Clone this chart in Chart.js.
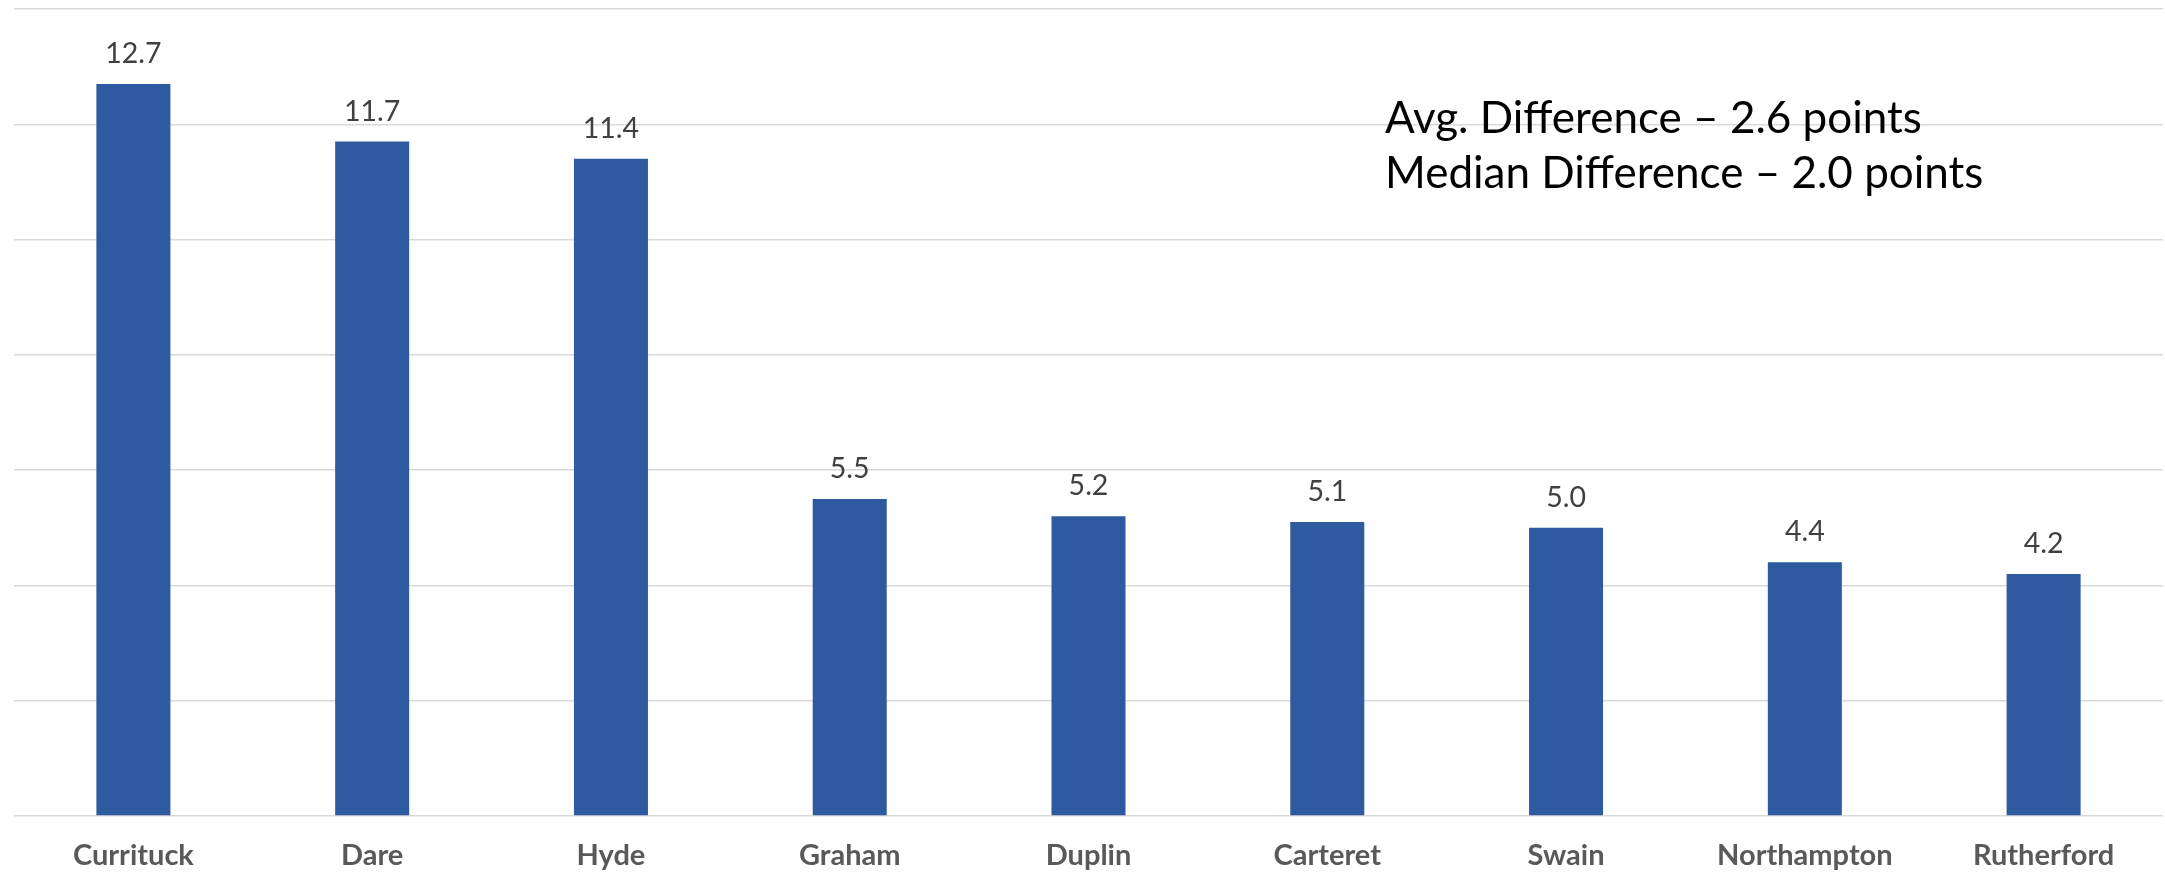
<!DOCTYPE html>
<html>
<head>
<meta charset="utf-8">
<script src="https://cdn.jsdelivr.net/npm/chart.js@4"></script>
<style>
  html, body { margin: 0; padding: 0; background: #fff; }
  #wrap { width: 2165px; height: 873px; }
</style>
</head>
<body>
<div id="wrap"><canvas id="chart"></canvas></div>
<script>
const counties = ['Currituck', 'Dare', 'Hyde', 'Graham', 'Duplin', 'Carteret', 'Swain', 'Northampton', 'Rutherford'];
const differences = [12.7, 11.7, 11.4, 5.5, 5.2, 5.1, 5.0, 4.4, 4.2];
const notes = ['Avg. Difference \u2013 2.6 points', 'Median Difference \u2013 2.0 points'];

// value labels above each bar
const barLabels = {
    id: 'barLabels',
    afterDatasetsDraw(chart) {
        const ctx = chart.ctx;
        const meta = chart.getDatasetMeta(0);
        ctx.save();
        ctx.font = '28.5px Lato';
        ctx.fillStyle = '#404040';
        ctx.textAlign = 'center';
        ctx.textBaseline = 'alphabetic';
        meta.data.forEach((bar, i) => {
            ctx.fillText(differences[i].toFixed(1), bar.x, bar.y - 21);
        });
        ctx.restore();
    }
};

// the two lines of text at top right
const noteText = {
    id: 'noteText',
    afterDraw(chart) {
        const ctx = chart.ctx;
        ctx.save();
        ctx.font = '44px Lato';
        ctx.fillStyle = '#000';
        ctx.textAlign = 'left';
        ctx.textBaseline = 'alphabetic';
        notes.forEach((t, i) => {
            ctx.fillText(t, 1385, 133 + i * 55);
        });
        ctx.restore();
    }
};

new Chart(document.getElementById('chart'), {
    type: 'bar',
    data: {
        labels: counties,
        datasets: [
            {
                data: differences,
                backgroundColor: '#2e5aa0',
                borderColor: '#2e5aa0',
                borderWidth: 0,
                barPercentage: 0.31,
                categoryPercentage: 1
            }
        ]
    },
    options: {
        responsive: true,
        maintainAspectRatio: false,
        animation: false,
        layout: {
            padding: { left: 14, right: 2, top: 9, bottom: 0 }
        },
        scales: {
            x: {
                grid: { display: false, drawTicks: false },
                border: { display: false },
                ticks: {
                    color: '#595959',
                    font: { family: 'Lato', size: 29, weight: 'bold' },
                    padding: 22,
                    maxRotation: 0
                },
                afterFit(scale) { scale.height = 57; }
            },
            y: {
                min: 0,
                max: 14,
                ticks: { display: false, stepSize: 2 },
                grid: { color: '#d9d9d9', lineWidth: 1.5, drawTicks: false },
                border: { display: false },
                afterFit(scale) { scale.width = 0; }
            }
        },
        plugins: {
            legend: { display: false },
            tooltip: { enabled: false }
        }
    },
    plugins: [barLabels, noteText]
});
</script>
</body>
</html>
